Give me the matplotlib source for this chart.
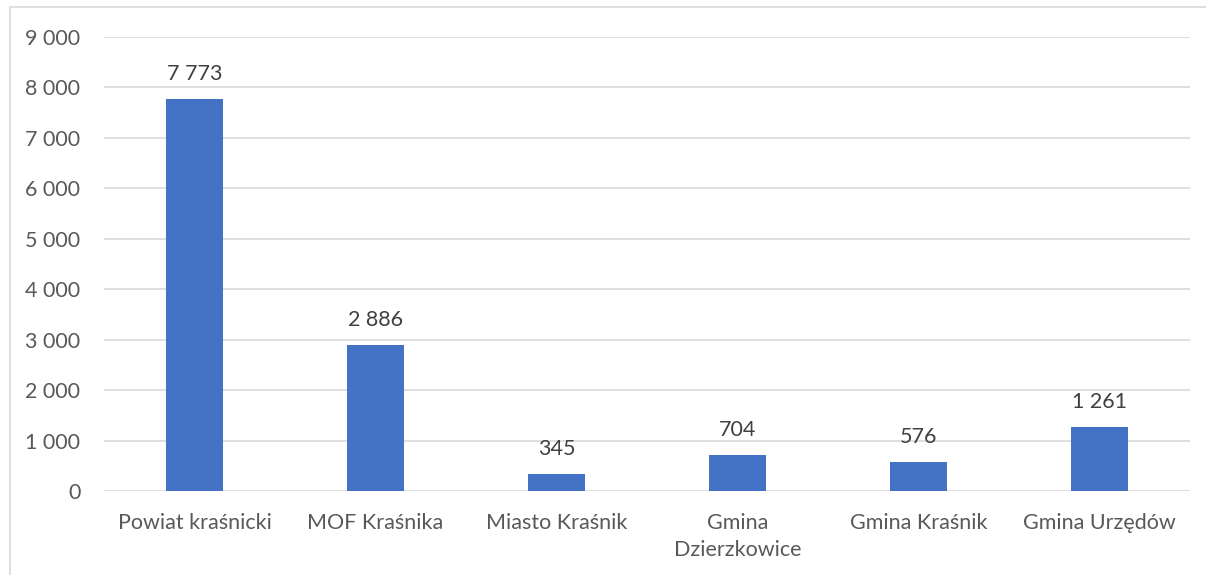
import matplotlib.pyplot as plt
from matplotlib.patches import Rectangle

categories = ['Powiat kraśnicki', 'MOF Kraśnika', 'Miasto Kraśnik',
              'Gmina\nDzierzkowice', 'Gmina Kraśnik', 'Gmina Urzędów']
values = [7773, 2886, 345, 704, 576, 1261]
yticks = [0, 1000, 2000, 3000, 4000, 5000, 6000, 7000, 8000, 9000]

def fmt(v):
    return '{:,}'.format(v).replace(',', ' ')

plt.rcParams['font.family'] = ['Lato', 'DejaVu Sans']

fig = plt.figure(figsize=(12.06, 5.75), dpi=100)
ax = fig.add_axes([0.0862, 0.1461, 0.9005, 0.7896])

x = range(len(categories))
ax.bar(x, values, width=0.31, color='#4472C4', zorder=3)
for xi, v in zip(x, values):
    ax.annotate(fmt(v), (xi, v), xytext=(0, 18), textcoords='offset points',
                ha='center', va='center', fontsize=15.5, color='#404040')

ax.set_xlim(-0.5, len(categories) - 0.5)
ax.set_ylim(0, 9000)
ax.set_yticks(yticks)
ax.set_yticklabels([fmt(t) for t in yticks], fontsize=15.5, color='#595959')
ax.set_xticks(list(x))
ax.set_xticklabels(categories, fontsize=15.5, color='#595959', linespacing=1.45)
ax.tick_params(length=0)
ax.tick_params(axis='y', pad=17)
ax.tick_params(axis='x', pad=16)
ax.grid(axis='y', color='#D9D9D9', linewidth=1.2, zorder=0)
for s in ax.spines.values():
    s.set_visible(False)

fig.patches.append(Rectangle((10 / 1206, -0.1), 1.2, 1.1 - 7 / 575,
                             transform=fig.transFigure, fill=False,
                             edgecolor='#D9D9D9', linewidth=1.2))

fig.savefig('out.png', dpi=100)
